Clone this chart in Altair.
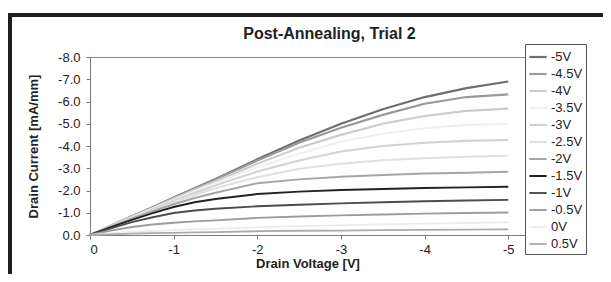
import altair as alt
import pandas as pd

# Drain voltage sample points (V)
vd = [0, -0.25, -0.5, -0.75, -1, -1.25, -1.5, -2, -2.5, -3, -3.5, -4, -4.5, -5]

# Gate voltage series names (legend order)
series = ["-5V", "-4.5V", "-4V", "-3.5V", "-3V", "-2.5V", "-2V", "-1.5V", "-1V", "-0.5V", "0V", "0.5V"]

# Drain current values (mA/mm)
i_m5 = [0, -0.42, -0.84, -1.25, -1.68, -2.10, -2.52, -3.40, -4.25, -5.00, -5.65, -6.20, -6.60, -6.90]
i_m45 = [0, -0.42, -0.84, -1.25, -1.67, -2.08, -2.50, -3.35, -4.15, -4.82, -5.40, -5.90, -6.20, -6.32]
i_m4 = [0, -0.41, -0.82, -1.22, -1.63, -2.03, -2.42, -3.20, -3.92, -4.50, -5.00, -5.35, -5.58, -5.68]
i_m35 = [0, -0.40, -0.80, -1.19, -1.58, -1.97, -2.34, -3.05, -3.65, -4.20, -4.55, -4.80, -4.95, -5.00]
i_m3 = [0, -0.39, -0.78, -1.16, -1.53, -1.89, -2.23, -2.85, -3.35, -3.75, -4.00, -4.15, -4.23, -4.27]
i_m25 = [0, -0.38, -0.76, -1.12, -1.47, -1.80, -2.10, -2.60, -2.98, -3.20, -3.36, -3.45, -3.52, -3.56]
i_m2 = [0, -0.37, -0.73, -1.07, -1.38, -1.66, -1.90, -2.33, -2.50, -2.62, -2.70, -2.76, -2.80, -2.84]
i_m15 = [0, -0.35, -0.68, -0.98, -1.26, -1.47, -1.62, -1.84, -1.95, -2.02, -2.07, -2.11, -2.14, -2.17]
i_m1 = [0, -0.30, -0.58, -0.80, -0.99, -1.10, -1.18, -1.29, -1.36, -1.42, -1.47, -1.52, -1.55, -1.58]
i_m05 = [0, -0.20, -0.36, -0.47, -0.55, -0.61, -0.66, -0.77, -0.83, -0.88, -0.92, -0.96, -0.99, -1.01]
i_0 = [0, -0.08, -0.14, -0.18, -0.22, -0.25, -0.28, -0.35, -0.40, -0.44, -0.48, -0.51, -0.54, -0.57]
i_p05 = [0, -0.03, -0.06, -0.08, -0.10, -0.12, -0.13, -0.17, -0.19, -0.20, -0.22, -0.23, -0.24, -0.25]

currents = [i_m5, i_m45, i_m4, i_m35, i_m3, i_m25, i_m2, i_m15, i_m1, i_m05, i_0, i_p05]

colors = ["#6e6e6e", "#999999", "#cccccc", "#efefef", "#d2d2d2", "#e0e0e0",
          "#a5a5a5", "#222222", "#4c4c4c", "#9c9c9c", "#ececec", "#ababab"]
widths = [2.2, 1.8, 1.6, 1.6, 1.6, 1.6, 1.6, 2.4, 2.0, 1.6, 1.6, 1.6]

rows = []
for k, (name, vals) in enumerate(zip(series, currents)):
    for x, y in zip(vd, vals):
        rows.append({"Vg": name, "Vd": x, "Id": y, "ord": k})
df = pd.DataFrame(rows)

FONT = "Liberation Sans"

legend = alt.Legend(
    title=None, orient="none", legendX=435, legendY=-13,
    symbolType="stroke", symbolSize=300, labelFontSize=13, labelFont=FONT,
    labelColor="#222222", strokeColor="#555555", fillColor="white",
    padding=3, rowPadding=0, labelOffset=3,
)

lines = alt.Chart(df).mark_line(interpolate="linear").encode(
    x=alt.X("Vd:Q",
            scale=alt.Scale(domain=[0, -5.2], nice=False, zero=False),
            axis=alt.Axis(values=[0, -1, -2, -3, -4, -5], title="Drain Voltage [V]",
                          labelExpr="datum.value == 0 ? '0' : '-' + format(abs(datum.value), 'd')",
                          titlePadding=1, labelPadding=4)),
    y=alt.Y("Id:Q",
            scale=alt.Scale(domain=[0, -8], nice=False, zero=False),
            axis=alt.Axis(values=[0, -1, -2, -3, -4, -5, -6, -7, -8], title="Drain Current [mA/mm]",
                          labelExpr="datum.value == 0 ? '0.0' : '-' + format(abs(datum.value), '.1f')",
                          titlePadding=17, labelPadding=6)),
    color=alt.Color("Vg:N", scale=alt.Scale(domain=series, range=colors), legend=legend),
    strokeWidth=alt.StrokeWidth("Vg:N", scale=alt.Scale(domain=series, range=widths), legend=legend),
    order=alt.Order("ord:Q", sort="descending"),
    detail="Vg:N",
)

frame = alt.Chart(pd.DataFrame({"a": [0]})).mark_rect(
    filled=False, fillOpacity=0, stroke="#1e1e1e", strokeWidth=4, clip=False
).encode(x=alt.value(-80), x2=alt.value(560), y=alt.value(-42), y2=alt.value(260))

chart = alt.layer(frame, lines).properties(
    width=435, height=178,
    padding={"left": 82, "top": 49, "right": 78, "bottom": 39},
    autosize=alt.AutoSizeParams(type="none"),
    title=alt.TitleParams("Post-Annealing, Trial 2", fontSize=16, font=FONT, fontWeight="bold",
                          color="#222222", dx=22, offset=-29, anchor="middle", zindex=2),
).configure_view(
    stroke="#8a8a8a", strokeWidth=1
).configure_axis(
    domainColor="#7a7a7a", tickColor="#7a7a7a", tickSize=4, grid=False,
    labelFont=FONT, labelFontSize=13, labelColor="#222222",
    titleFont=FONT, titleFontSize=13, titleFontWeight="bold", titleColor="#222222",
)

chart.save("out.html", embed_options={"renderer": "svg", "actions": False})
